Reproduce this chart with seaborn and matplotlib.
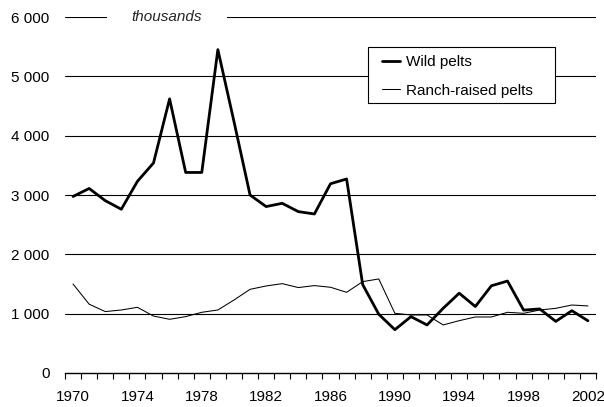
import matplotlib
matplotlib.use("Agg")
import matplotlib.pyplot as plt
import matplotlib.transforms as mtransforms
from matplotlib.patches import Rectangle
import seaborn as sns
import pandas as pd
import numpy as np
from matplotlib.ticker import FuncFormatter, FixedLocator

years = list(range(1970, 2003))
wild_pelts = [2975, 3110, 2905, 2760, 3230, 3540, 4620, 3380, 3380, 5450,
              4240, 3000, 2805, 2860, 2720, 2680, 3190, 3270, 1490, 990,
              730, 950, 810, 1090, 1345, 1120, 1470, 1550, 1060, 1080,
              870, 1050, 880]
ranch_pelts = [1500, 1160, 1035, 1062, 1107, 960, 905, 950, 1023, 1062,
               1230, 1410, 1467, 1506, 1440, 1473, 1445, 1360, 1540, 1585,
               1006, 978, 978, 810, 882, 944, 944, 1023, 1006, 1062,
               1090, 1146, 1130]
series_names = ["Wild pelts", "Ranch-raised pelts"]
y_ticks = [0, 1000, 2000, 3000, 4000, 5000, 6000]
x_label_years = [1970, 1974, 1978, 1982, 1986, 1990, 1994, 1998, 2002]

sns.set_theme(style="white")
plt.rcParams['font.family'] = ['Liberation Sans', 'DejaVu Sans']
FS = 11

df = pd.DataFrame({
    "idx": list(range(len(years))) * 2,
    "value": wild_pelts + ranch_pelts,
    "series": [series_names[0]] * len(years) + [series_names[1]] * len(years),
})

fig = plt.figure(figsize=(6.04, 4.07), dpi=100)
ax = fig.add_axes([65 / 604, 34 / 407, 531 / 604, 356 / 407])

sns.lineplot(data=df[df.series == series_names[0]], x="idx", y="value",
             color="black", linewidth=2.0, ax=ax, label=series_names[0], zorder=4)
sns.lineplot(data=df[df.series == series_names[1]], x="idx", y="value",
             color="black", linewidth=0.75, ax=ax, label=series_names[1], zorder=3)

ax.set_xlim(-0.5, len(years) - 0.5)
ax.set_ylim(0, 6000)
ax.set_xlabel("")
ax.set_ylabel("")

for v in y_ticks[1:]:
    ax.axhline(v, color="black", linewidth=0.8, zorder=1)

for s in ["top", "right", "left"]:
    ax.spines[s].set_visible(False)
ax.spines["bottom"].set_color("black")
ax.spines["bottom"].set_linewidth(1.0)
ax.spines["bottom"].set_zorder(2)

ax.set_yticks(y_ticks)
ax.yaxis.set_major_formatter(FuncFormatter(lambda v, p: f"{int(v):,}".replace(",", " ")))
ax.tick_params(axis="y", length=0, pad=11, labelsize=FS, labelcolor="black")

major_pos = [years.index(y) for y in x_label_years]
ax.set_xticks(major_pos)
ax.set_xticklabels([str(y) for y in x_label_years])
ax.xaxis.set_minor_locator(FixedLocator(np.arange(-0.5, len(years), 1.0)))
ax.tick_params(axis="x", which="major", length=0, pad=12.5, labelsize=FS, labelcolor="black")
ax.tick_params(axis="x", which="minor", length=4, width=0.8, color="black", direction="out", bottom=True)

blend = mtransforms.blended_transform_factory(ax.transAxes, ax.transData)
ax.text(0.192, 6000, "thousands", transform=blend,
        ha="center", va="center", fontsize=FS, style="italic", zorder=5,
        bbox=dict(boxstyle="square,pad=1.6", facecolor="white", edgecolor="none"))

# legend frame
ax.add_patch(Rectangle((0.571, 0.758), 0.352, 0.158, transform=ax.transAxes,
                       facecolor="white", edgecolor="black", linewidth=0.8,
                       zorder=5, clip_on=False))
leg = ax.legend(loc="upper left", bbox_to_anchor=(0.597, 0.893), borderaxespad=0,
                frameon=False, fontsize=FS, handlelength=1.18, handletextpad=0.4,
                labelspacing=0.95, borderpad=0)
leg.set_zorder(6)
for t in leg.get_texts():
    t.set_color("black")

fig.savefig("out.png", dpi=100, facecolor="white")
